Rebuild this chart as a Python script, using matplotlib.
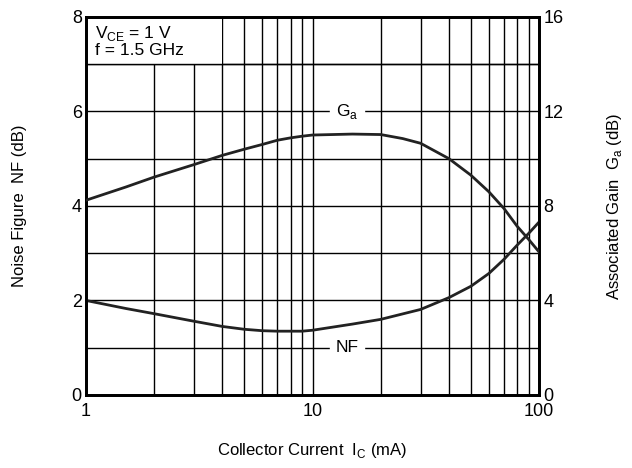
import numpy as np
import matplotlib.pyplot as plt
from matplotlib.patches import Rectangle

plt.rcParams['font.family'] = ['Liberation Sans', 'DejaVu Sans']
plt.rcParams['mathtext.fontset'] = 'custom'
plt.rcParams['mathtext.rm'] = 'Liberation Sans'

# Ga curve (right axis, dB)
ic_ga = [1, 1.5, 2, 3, 4, 5, 6, 7, 8, 9, 10, 15, 20, 25, 30, 40, 50, 60, 70, 80, 90, 100]
ga = [8.24, 8.8, 9.22, 9.75, 10.14, 10.4, 10.6, 10.78, 10.88, 10.95, 11.0,
      11.04, 11.02, 10.85, 10.65, 10.0, 9.3, 8.6, 7.89, 7.14, 6.58, 6.05]

# NF curve (left axis, dB)
ic_nf = [1, 1.5, 2, 3, 4, 5, 6, 7, 8, 9, 10, 15, 20, 30, 40, 50, 60, 70, 80, 90, 100]
nf = [2.0, 1.83, 1.72, 1.56, 1.45, 1.39, 1.36, 1.35, 1.35, 1.35, 1.37,
      1.5, 1.6, 1.81, 2.06, 2.3, 2.57, 2.87, 3.17, 3.42, 3.66]

xgrid = [2, 3, 4, 5, 6, 7, 8, 9, 10, 20, 30, 40, 50, 60, 70, 80, 90]
ygrid = [1, 2, 3, 4, 5, 6, 7]

fig, ax = plt.subplots(figsize=(6.32, 4.68), dpi=100)
fig.subplots_adjust(left=0.136, right=0.853, top=0.964, bottom=0.156)

ax.set_xscale('log')
ax.set_xlim(1, 100)
ax.set_ylim(0, 8)

for xv in xgrid:
    ax.axvline(xv, color='black', lw=1, zorder=1)
for yv in ygrid:
    ax.axhline(yv, color='black', lw=1, zorder=1)

# white box behind the conditions text
ax.add_patch(Rectangle((1, 7), 3, 1, facecolor='white', edgecolor='none', zorder=2))
ax.axhline(7, color='black', lw=1, zorder=2)

ax.plot(ic_nf, nf, color='#222222', lw=2, zorder=3)

ax2 = ax.twinx()
ax2.set_ylim(0, 16)
ax2.plot(ic_ga, ga, color='#222222', lw=2, zorder=3)

ax.set_xticks([1, 10, 100])
ax.set_xticklabels(['1', '10', '100'])
ax.xaxis.set_minor_locator(plt.NullLocator())
ax.set_yticks([0, 2, 4, 6, 8])
ax2.set_yticks([0, 4, 8, 12, 16])
ax.tick_params(axis='x', length=0, labelsize=13, pad=6)
ax.tick_params(axis='y', length=0, labelsize=13, pad=3)
ax2.tick_params(length=0, labelsize=13, pad=3)

for a in (ax, ax2):
    for s in a.spines.values():
        s.set_linewidth(2)

ax.text(1.1, 7.84, r'V$_{\mathregular{CE}}$ = 1 V' + '\nf = 1.5 GHz', fontsize=12.5, va='top',
        ha='left', linespacing=1.0, zorder=4)

ax.text(14.2, 6, r'G$_{\mathregular{a}}$', fontsize=12.5, ha='center', va='center',
        backgroundcolor='white', zorder=4)
ax.text(14.2, 1, 'NF', fontsize=12.5, ha='center', va='center',
        backgroundcolor='white', zorder=4)

ax.set_xlabel(r'Collector Current  I$_{\mathregular{C}}$ (mA)', fontsize=12, labelpad=15)
ax.set_ylabel('Noise Figure  NF (dB)', fontsize=12, labelpad=32)
ax2.set_ylabel(r'Associated Gain  G$_{\mathregular{a}}$ (dB)', fontsize=12, labelpad=30)

fig.savefig('out.png', dpi=100)
